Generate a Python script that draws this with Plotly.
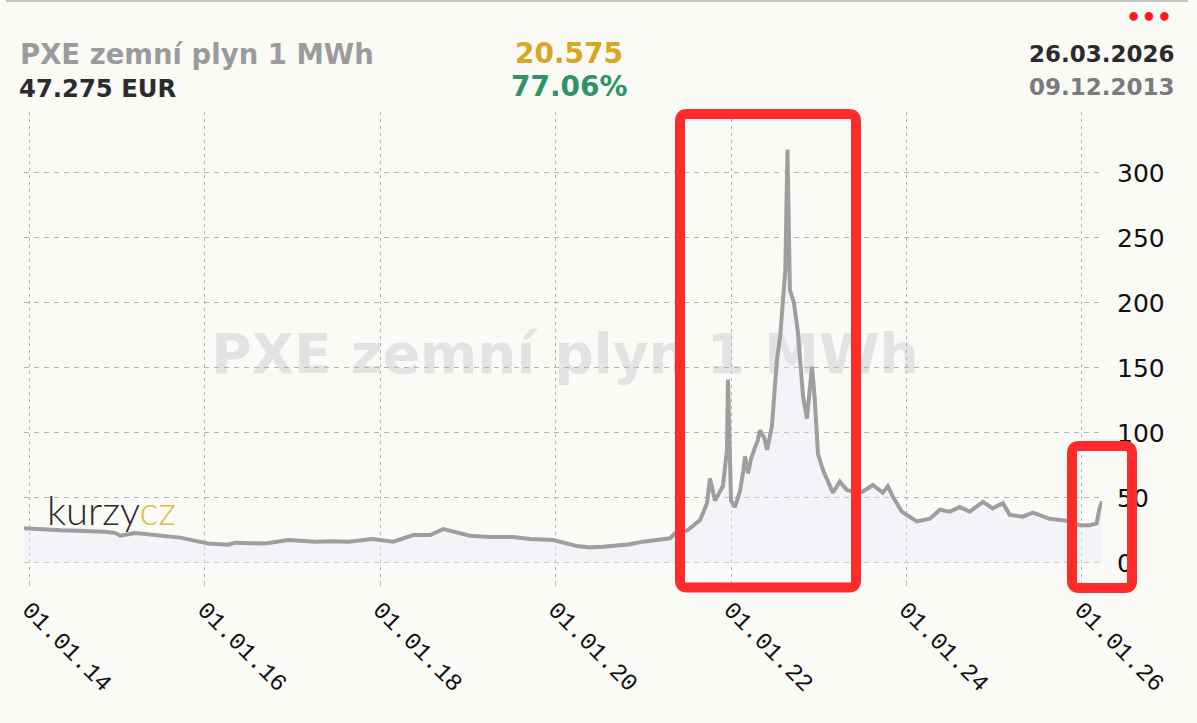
import plotly.graph_objects as go

# ---------------- data ----------------
dates = [
    "2013-12-09", "2014-02-15", "2014-05-10", "2014-07-20", "2014-09-12", "2014-11-10",
    "2014-12-25", "2015-01-15", "2015-03-18", "2015-05-20", "2015-07-21", "2015-09-20",
    "2015-11-23", "2016-01-16", "2016-04-08", "2016-05-07", "2016-07-10", "2016-09-09",
    "2016-12-14", "2017-02-10", "2017-04-05", "2017-06-15", "2017-08-21", "2017-11-29",
    "2018-02-24", "2018-05-18", "2018-07-28", "2018-09-20", "2018-11-17", "2019-01-10",
    "2019-04-04", "2019-07-08", "2019-09-17", "2019-12-22", "2020-03-31", "2020-05-25",
    "2020-07-17", "2020-09-15", "2020-11-06", "2020-12-30", "2021-02-25", "2021-04-22",
    "2021-05-13", "2021-07-02", "2021-08-25", "2021-09-23", "2021-10-05", "2021-10-26",
    "2021-11-28", "2021-12-15", "2021-12-19", "2021-12-24", "2022-01-01", "2022-01-17",
    "2022-02-07", "2022-02-20", "2022-02-28", "2022-03-13", "2022-03-25", "2022-04-11",
    "2022-04-22", "2022-05-01", "2022-05-20", "2022-05-31", "2022-06-20", "2022-07-11",
    "2022-07-25", "2022-08-05", "2022-08-15", "2022-08-24", "2022-08-30", "2022-09-03",
    "2022-09-20", "2022-10-06", "2022-10-28", "2022-11-13", "2022-12-04", "2022-12-16",
    "2022-12-29", "2023-01-19", "2023-03-01", "2023-03-30", "2023-04-29", "2023-06-22",
    "2023-07-04", "2023-08-15", "2023-09-25", "2023-10-16", "2023-11-06", "2023-12-13",
    "2024-02-14", "2024-04-08", "2024-05-20", "2024-06-30", "2024-08-11", "2024-09-21",
    "2024-11-15", "2024-12-26", "2025-02-06", "2025-03-07", "2025-04-30", "2025-06-11",
    "2025-08-20", "2025-10-30", "2025-12-23", "2026-02-03", "2026-03-04", "2026-03-14",
    "2026-03-26",
]
prices = [
    26.7, 25.8, 25.2, 24.8, 24.5, 24.0,
    23.0, 21.0, 23.0, 22.0, 21.0, 19.5,
    17.0, 15.0, 14.0, 15.6, 15.2, 15.0,
    17.7, 17.0, 16.4, 16.8, 16.4, 18.5,
    16.4, 21.5, 21.5, 26.0, 23.8, 21.0,
    20.0, 20.0, 18.5, 17.7, 13.0, 12.0,
    12.5, 13.5, 14.4, 16.4, 17.5, 19.0,
    22.8, 25.0, 33.0, 46.0, 65.0, 48.0,
    59.0, 87.0, 141.0, 90.0, 48.0, 43.0,
    55.0, 70.0, 82.0, 69.0, 80.0, 89.0,
    94.0, 102.0, 96.0, 87.0, 105.0, 156.0,
    175.0, 202.0, 225.0, 318.0, 215.0, 210.0,
    200.0, 178.0, 128.0, 111.0, 151.0, 125.0,
    84.0, 71.5, 54.0, 62.5, 56.0, 54.0,
    55.0, 60.0, 54.0, 59.0, 51.0, 39.5,
    32.0, 34.0, 41.0, 39.5, 43.0, 39.5,
    47.0, 42.0, 46.0, 37.0, 35.6, 38.7,
    34.0, 32.5, 29.0, 29.0, 30.5, 41.0,
    47.275,
]

x_tick_dates = ["2014-01-01", "2016-01-01", "2018-01-01", "2020-01-01",
                "2022-01-01", "2024-01-01", "2026-01-01"]
x_tick_labels = ["01.01.14", "01.01.16", "01.01.18", "01.01.20",
                 "01.01.22", "01.01.24", "01.01.26"]
y_tick_vals = [0, 50, 100, 150, 200, 250, 300]

title_name = "PXE zemní plyn 1 MWh"
last_price = "47.275 EUR"
change_abs = "20.575"
change_pct = "77.06%"
date_last = "26.03.2026"
date_first = "09.12.2013"

# ---------------- layout geometry ----------------
W, H = 1197, 723
ML, MR, MT, MB = 24, 95, 112, 143
PW, PH = W - ML - MR, H - MT - MB


def px(x):
    return (x - ML) / PW


def py(y):
    return (H - MB - y) / PH


def rrect(x0, y0, x1, y1, r):
    pts = [
        ("M", [(x0 + r, y0)]), ("L", [(x1 - r, y0)]), ("Q", [(x1, y0), (x1, y0 + r)]),
        ("L", [(x1, y1 - r)]), ("Q", [(x1, y1), (x1 - r, y1)]),
        ("L", [(x0 + r, y1)]), ("Q", [(x0, y1), (x0, y1 - r)]),
        ("L", [(x0, y0 + r)]), ("Q", [(x0, y0), (x0 + r, y0)]),
    ]
    s = ""
    for cmd, coords in pts:
        s += cmd + " " + " ".join(f"{px(a):.5f},{py(b):.5f}" for a, b in coords) + " "
    return s + "Z"


fig = go.Figure()
fig.add_trace(go.Scatter(
    x=dates, y=prices, mode="lines",
    line=dict(color="#9e9e9e", width=4),
    fill="tozeroy", fillcolor="rgba(228,233,248,0.38)",
    hoverinfo="skip", showlegend=False,
))

BOLD = "DejaVu Sans"
ann = []


def add_text(text, x, y, size, color, xanchor, family=BOLD, weight="bold"):
    ann.append(dict(text=text, x=px(x), y=py(y), xref="paper", yref="paper",
                    xanchor=xanchor, yanchor="middle", showarrow=False,
                    font=dict(family=family, size=size, color=color, weight=weight)))


add_text(title_name, 18, 53.5, 27.5, "#9b9b9b", "left")
add_text(last_price, 17, 88.3, 24.3, "#2b2b2b", "left")
add_text(change_abs, 569, 53.8, 28, "#DAA520", "center")
add_text(change_pct, 569, 87, 28, "#2E9466", "center")
add_text(date_last, 1177, 54, 23, "#2b2b2b", "right")
add_text(date_first, 1177, 87.5, 23, "#7a7a7a", "right")
add_text("•••", 1149, 18, 24, "#ff1a1a", "center")
ann.append(dict(text="kurzy<span style='color:#E3B94E'>cz</span>",
                x=px(45), y=py(510), xref="paper", yref="paper",
                xanchor="left", yanchor="middle", showarrow=False,
                font=dict(family="Lato", size=40, color="#2a2a2a", weight=300)))

shapes = [
    # watermark below the data
    dict(type="rect", xref="paper", yref="paper", layer="below",
         x0=px(150), x1=px(980), y0=py(395), y1=py(305),
         line=dict(width=0), fillcolor="rgba(0,0,0,0)",
         label=dict(text=title_name, textposition="middle center",
                    font=dict(family=BOLD, size=55, color="#e3e3e3", weight="bold"))),
    # top border line
    dict(type="line", xref="paper", yref="paper", x0=px(6), x1=px(1188),
         y0=py(1), y1=py(1), line=dict(color="#c4c4c4", width=2)),
    # red highlight boxes
    dict(type="path", xref="paper", yref="paper", layer="above",
         path=rrect(680, 114, 856, 587.5, 7),
         line=dict(color="#FF2B2B", width=10)),
    dict(type="path", xref="paper", yref="paper", layer="above",
         path=rrect(1072, 446, 1132, 588, 7),
         line=dict(color="#FF2B2B", width=10)),
]

fig.update_layout(
    width=W, height=H,
    margin=dict(l=ML, r=MR, t=MT, b=MB, pad=0),
    paper_bgcolor="#fafaf7", plot_bgcolor="rgba(0,0,0,0)",
    showlegend=False, annotations=ann, shapes=shapes,
    xaxis=dict(
        type="date", range=[dates[0], dates[-1]],
        tickvals=x_tick_dates, ticktext=x_tick_labels, tickangle=45,
        tickfont=dict(family="Liberation Mono", size=24, color="#111111"),
        showgrid=True, gridcolor="#b3b3b3", gridwidth=1, griddash="3px,4px",
        ticks="outside", ticklen=5, tickcolor="#bbbbbb",
        showline=False, zeroline=False, fixedrange=True,
    ),
    yaxis=dict(
        side="right", range=[-13.1, 346.9], tickvals=y_tick_vals,
        tickfont=dict(family="DejaVu Sans", size=25, color="#111111"),
        showgrid=True, gridcolor="#b3b3b3", gridwidth=1, griddash="5px,5px",
        ticks="", ticklabelstandoff=14,
        showline=False, zeroline=False, fixedrange=True,
    ),
)

fig.write_html("out.html", config={"displayModeBar": False},
               post_script="document.body.style.margin='0';document.body.style.overflow='hidden';")
